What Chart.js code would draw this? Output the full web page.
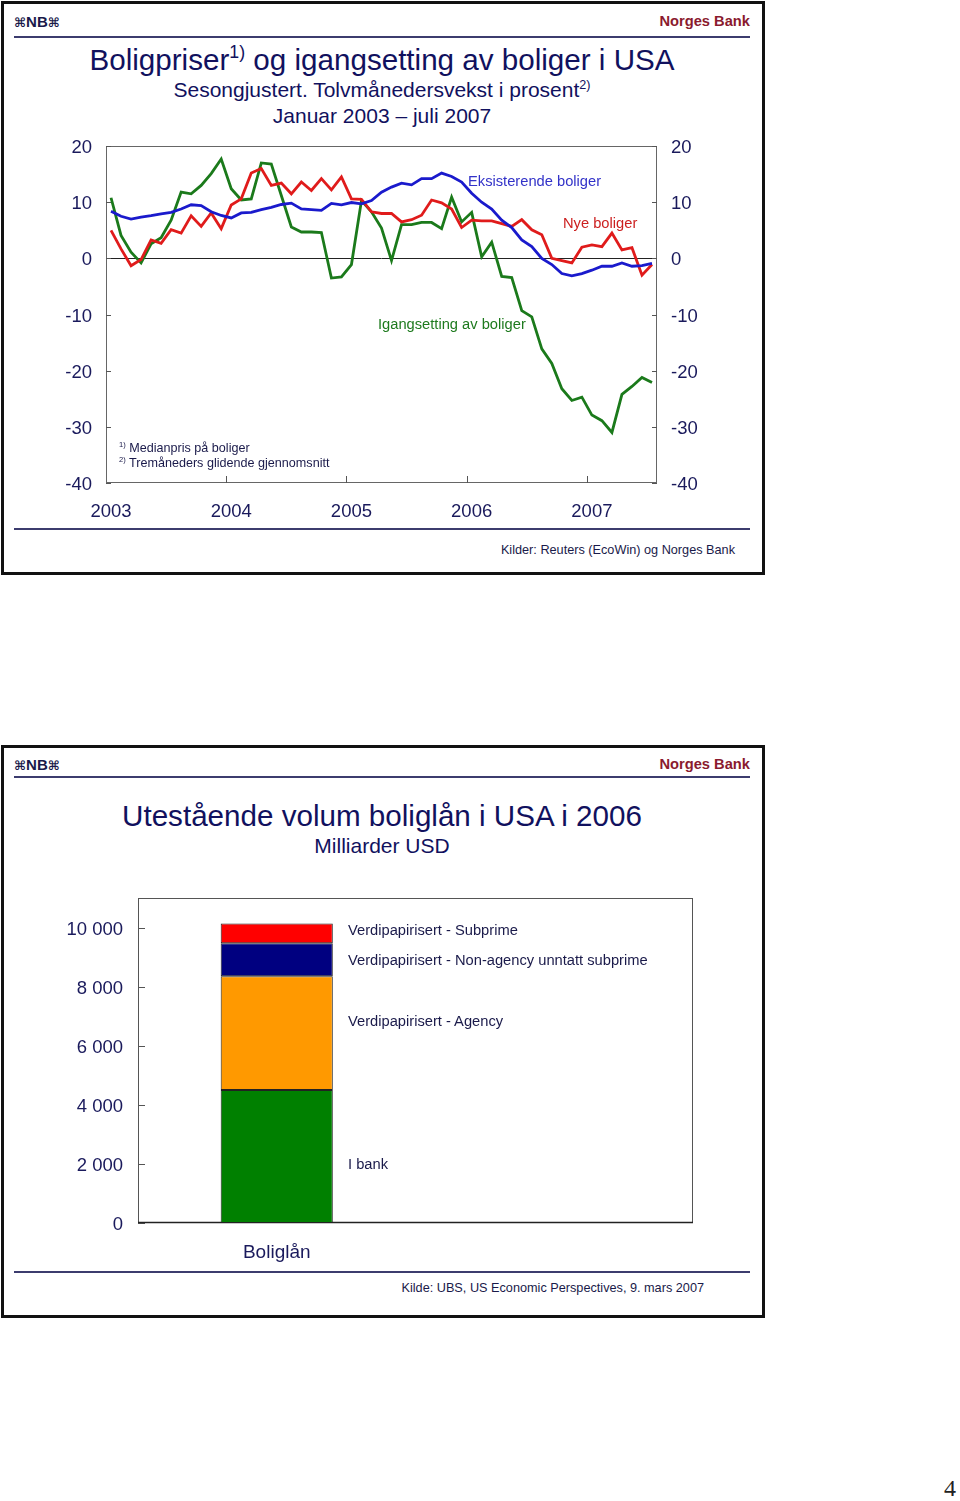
<!DOCTYPE html>
<html><head><meta charset="utf-8">
<script src="https://cdn.jsdelivr.net/npm/chart.js@4.4.1/dist/chart.umd.min.js"></script>
<style>
html,body{margin:0;padding:0;background:#fff;}
body{width:960px;height:1501px;position:relative;overflow:hidden;font-family:"Liberation Sans",Arial,Helvetica,sans-serif;color:#1a1a5c;}
.frame{position:absolute;border:3px solid #111;box-sizing:border-box;}
.t{position:absolute;white-space:nowrap;line-height:1;}
.c{left:0;width:764px;text-align:center;}
.hl{position:absolute;height:2px;background:#3c3c6e;}
.logo{font-weight:bold;font-size:15px;color:#1a1a4a;}
.logo span{font-family:"DejaVu Sans";font-size:13px;}
.nb{font-weight:bold;font-size:14.7px;color:#8a1a2e;}
.ttl{font-size:29.6px;color:#11115e;}
.sub{font-size:21px;color:#11115e;}
sup{font-size:0.6em;vertical-align:baseline;position:relative;top:-0.65em;}
canvas{position:absolute;left:0;}
.lab{font-size:14.7px;}
.fn{font-size:12.6px;color:#1a1a4a;}
.src{font-size:12.7px;color:#1a1a4a;}
</style></head>
<body>
<!-- Slide 1 -->
<div class="frame" style="left:1px;top:1px;width:764px;height:574px;"></div>
<div class="t logo" style="left:14px;top:14px;"><span>⌘</span>NB<span>⌘</span></div>
<div class="t nb" style="right:210px;top:13.8px;">Norges Bank</div>
<div class="hl" style="left:14px;top:36px;width:736px;"></div>
<div class="t c ttl" style="top:44.5px;">Boligpriser<sup>1)</sup> og igangsetting av boliger i USA</div>
<div class="t c sub" style="top:78.7px;">Sesongjustert. Tolvmånedersvekst i prosent<sup>2)</sup></div>
<div class="t c sub" style="top:104.7px;">Januar 2003 – juli 2007</div>
<canvas id="c1" width="760" height="409" style="top:121px;"></canvas>
<div class="t lab" style="left:468px;top:173.8px;color:#3232c8;">Eksisterende boliger</div>
<div class="t lab" style="left:563px;top:215.8px;color:#cc2020;">Nye boliger</div>
<div class="t lab" style="left:378px;top:316.8px;color:#1e7a1e;">Igangsetting av boliger</div>
<div class="t fn" style="left:119px;top:441.8px;"><sup>1)</sup> Medianpris på boliger</div>
<div class="t fn" style="left:119px;top:456.8px;"><sup>2)</sup> Tremåneders glidende gjennomsnitt</div>
<div class="hl" style="left:14px;top:528px;width:736px;"></div>
<div class="t src" style="right:225px;top:543.8px;">Kilder: Reuters (EcoWin) og Norges Bank</div>

<!-- Slide 2 -->
<div class="frame" style="left:1px;top:745px;width:764px;height:573px;"></div>
<div class="t logo" style="left:14px;top:757px;"><span>⌘</span>NB<span>⌘</span></div>
<div class="t nb" style="right:210px;top:756.8px;">Norges Bank</div>
<div class="hl" style="left:14px;top:776px;width:736px;"></div>
<div class="t c ttl" style="top:800.5px;">Utestående volum boliglån i USA i 2006</div>
<div class="t c sub" style="top:834.7px;">Milliarder USD</div>
<canvas id="c2" width="760" height="408" style="top:872px;"></canvas>
<div class="t lab" style="left:348px;top:922.8px;color:#1a1a4a;">Verdipapirisert - Subprime</div>
<div class="t lab" style="left:348px;top:952.8px;color:#1a1a4a;">Verdipapirisert - Non-agency unntatt subprime</div>
<div class="t lab" style="left:348px;top:1013.8px;color:#1a1a4a;">Verdipapirisert - Agency</div>
<div class="t lab" style="left:348px;top:1156.8px;color:#1a1a4a;">I bank</div>
<div class="hl" style="left:14px;top:1271px;width:736px;"></div>
<div class="t src" style="right:256px;top:1281.8px;">Kilde: UBS, US Economic Perspectives, 9. mars 2007</div>

<div class="t" style="left:944px;top:1476px;font-family:'Liberation Serif',serif;font-size:24px;color:#222;">4</div>

<script>
// ---------- Chart 1 data ----------
const months = [
 '2003-01','2003-02','2003-03','2003-04','2003-05','2003-06','2003-07','2003-08','2003-09','2003-10','2003-11','2003-12',
 '2004-01','2004-02','2004-03','2004-04','2004-05','2004-06','2004-07','2004-08','2004-09','2004-10','2004-11','2004-12',
 '2005-01','2005-02','2005-03','2005-04','2005-05','2005-06','2005-07','2005-08','2005-09','2005-10','2005-11','2005-12',
 '2006-01','2006-02','2006-03','2006-04','2006-05','2006-06','2006-07','2006-08','2006-09','2006-10','2006-11','2006-12',
 '2007-01','2007-02','2007-03','2007-04','2007-05','2007-06','2007-07'
];
const housingStarts = [
 10.8,4.1,1.1,-0.8,2.6,3.7,6.8,11.8,11.5,13.0,15.1,17.7,
 12.4,10.4,10.6,17.0,16.8,11.2,5.6,4.7,4.7,4.6,-3.5,-3.3,
 -1.1,10.3,8.3,5.4,-0.4,6.0,6.0,6.4,6.4,5.3,10.9,6.5,
 8.2,0.3,2.9,-3.2,-3.4,-9.3,-10.4,-16.1,-18.7,-23.2,-25.3,-24.7,
 -27.9,-28.9,-31.0,-24.2,-22.8,-21.2,-22.1
];
const newHomes = [
 5.0,1.7,-1.3,-0.2,3.3,2.7,5.1,4.5,7.6,5.7,8.1,5.3,
 9.5,10.6,15.2,16.0,13.0,13.4,11.5,13.6,12.1,14.2,12.2,14.5,
 10.6,10.5,8.3,8.0,8.0,6.5,6.9,7.7,10.4,9.9,8.8,5.5,
 6.8,6.7,6.7,6.2,5.7,6.9,5.1,4.2,0.0,-0.4,-0.8,2.0,
 2.4,2.1,4.5,1.5,1.9,-3.0,-1.1
];
const existingHomes = [
 8.4,7.5,7.0,7.35,7.6,7.95,8.2,8.8,9.55,9.4,8.3,7.65,
 7.2,8.1,8.2,8.7,9.1,9.6,9.85,8.8,8.7,8.55,9.8,9.55,
 9.95,9.7,10.3,11.8,12.7,13.4,13.1,14.2,14.2,15.2,14.6,13.6,
 11.6,10.0,8.8,6.8,5.5,3.3,2.1,0.0,-1.1,-2.7,-3.1,-2.7,
 -2.1,-1.4,-1.4,-0.8,-1.4,-1.3,-0.9
];
const y1Min = -40, y1Max = 20, y1Step = 10;

// ---------- Chart 2 data ----------
const loanCategories = ['Boliglån', ''];
const inBank = [4500, null];
const agency = [3850, null];
const nonAgency = [1120, null];
const subprime = [670, null];
const loanTicks = [0, 2000, 4000, 6000, 8000, 10000];
const y2Min = 0, y2Max = 11000;

const FONT = '"Liberation Sans", Arial, Helvetica, sans-serif';
const AXIS_COLOR = '#1a1a5c';

const frame1 = {
  id: 'frame1',
  beforeDatasetsDraw(chart) {
    const {ctx, chartArea: {left, right, top, bottom}, scales: {x, y}} = chart;
    ctx.save();
    ctx.lineWidth = 1;
    ctx.strokeStyle = '#666';
    ctx.strokeRect(Math.round(left) + 0.5, Math.round(top) + 0.5, Math.round(right - left) - 1, Math.round(bottom - top) - 1);
    const y0 = Math.round(y.getPixelForValue(0)) + 0.5;
    ctx.strokeStyle = '#222';
    ctx.beginPath(); ctx.moveTo(left, y0); ctx.lineTo(right, y0); ctx.stroke();
    ctx.strokeStyle = '#555';
    y.ticks.forEach(t => {
      const py = Math.round(y.getPixelForValue(t.value)) + 0.5;
      ctx.beginPath();
      ctx.moveTo(left, py); ctx.lineTo(left + 5, py);
      ctx.moveTo(right, py); ctx.lineTo(right - 5, py);
      ctx.stroke();
    });
    const half = (x.getPixelForValue(1) - x.getPixelForValue(0)) / 2;
    months.forEach((m, i) => {
      if (i > 0 && m.endsWith('-01')) {
        const px = Math.round(x.getPixelForValue(i) - half) + 0.5;
        ctx.beginPath(); ctx.moveTo(px, bottom); ctx.lineTo(px, bottom - 7); ctx.stroke();
      }
    });
    ctx.restore();
  }
};

new Chart(document.getElementById('c1'), {
  type: 'line',
  data: {
    labels: months,
    datasets: [
      {label: 'Eksisterende boliger', data: existingHomes, borderColor: '#1a1acc'},
      {label: 'Nye boliger', data: newHomes, borderColor: '#e01b1b'},
      {label: 'Igangsetting av boliger', data: housingStarts, borderColor: '#1b7a1b'}
    ]
  },
  options: {
    responsive: false, animation: false, devicePixelRatio: 1,
    layout: {padding: 0},
    plugins: {legend: {display: false}, tooltip: {enabled: false}},
    elements: {point: {radius: 0}, line: {borderWidth: 2.8, tension: 0, fill: false}},
    scales: {
      x: {
        type: 'category', offset: true,
        grid: {display: false, drawTicks: false}, border: {display: false},
        ticks: {autoSkip: false, maxRotation: 0, minRotation: 0, padding: 18, color: AXIS_COLOR,
          font: {size: 18.5, family: FONT},
          callback: (v, i) => months[i].endsWith('-01') ? months[i].slice(0, 4) : ''},
        afterFit: s => { s.height = 47; }
      },
      y: {
        position: 'left', min: y1Min, max: y1Max,
        grid: {display: false, drawTicks: false}, border: {display: false},
        ticks: {stepSize: y1Step, padding: 14, labelOffset: 2, color: AXIS_COLOR, font: {size: 18.5, family: FONT}},
        afterFit: s => { s.width = 106; }
      },
      y2: {
        position: 'right', min: y1Min, max: y1Max,
        grid: {display: false, drawTicks: false}, border: {display: false},
        ticks: {stepSize: y1Step, padding: 14, labelOffset: 2, color: AXIS_COLOR, font: {size: 18.5, family: FONT}},
        afterFit: s => { s.width = 103; }
      }
    }
  },
  plugins: [frame1]
});

const frame2 = {
  id: 'frame2',
  beforeDatasetsDraw(chart) {
    const {ctx, chartArea: {left, right, top, bottom}, scales: {y}} = chart;
    ctx.save();
    ctx.lineWidth = 1;
    ctx.strokeStyle = '#555';
    ctx.strokeRect(Math.round(left) + 0.5, Math.round(top) + 0.5, Math.round(right - left) - 1, Math.round(bottom - top) - 1);
    y.ticks.forEach(t => {
      const py = Math.round(y.getPixelForValue(t.value)) + 0.5;
      ctx.beginPath(); ctx.moveTo(left, py); ctx.lineTo(left + 7, py); ctx.stroke();
    });
    ctx.strokeStyle = '#222';
    ctx.lineWidth = 1.5;
    ctx.beginPath(); ctx.moveTo(left, bottom - 0.5); ctx.lineTo(right, bottom - 0.5); ctx.stroke();
    ctx.restore();
  }
};

const fmt = v => String(Math.round(v)).replace(/\B(?=(\d{3})+(?!\d))/g, ' ');

new Chart(document.getElementById('c2'), {
  type: 'bar',
  data: {
    labels: loanCategories,
    datasets: [
      {label: 'I bank', data: inBank, backgroundColor: '#008000'},
      {label: 'Verdipapirisert - Agency', data: agency, backgroundColor: '#ff9900'},
      {label: 'Verdipapirisert - Non-agency unntatt subprime', data: nonAgency, backgroundColor: '#000080'},
      {label: 'Verdipapirisert - Subprime', data: subprime, backgroundColor: '#ff0000'}
    ]
  },
  options: {
    responsive: false, animation: false, devicePixelRatio: 1,
    layout: {padding: {top: 0, left: 0, right: 67, bottom: 0}},
    plugins: {legend: {display: false}, tooltip: {enabled: false}},
    datasets: {bar: {barPercentage: 0.404, categoryPercentage: 1.0, borderWidth: 1, borderColor: '#222', borderSkipped: false}},
    scales: {
      x: {
        stacked: true, offset: true,
        grid: {display: false, drawTicks: false}, border: {display: false},
        ticks: {padding: 18, color: AXIS_COLOR, font: {size: 19, family: FONT}},
        afterFit: s => { s.height = 57; }
      },
      y: {
        stacked: true, min: y2Min, max: y2Max,
        grid: {display: false, drawTicks: false}, border: {display: false},
        ticks: {padding: 15, labelOffset: 2, color: AXIS_COLOR, font: {size: 18.5, family: FONT}, callback: v => fmt(v)},
        afterBuildTicks: s => { s.ticks = loanTicks.map(v => ({value: v})); },
        afterFit: s => { s.width = 138; }
      }
    }
  },
  plugins: [frame2]
});
</script>
</body></html>
